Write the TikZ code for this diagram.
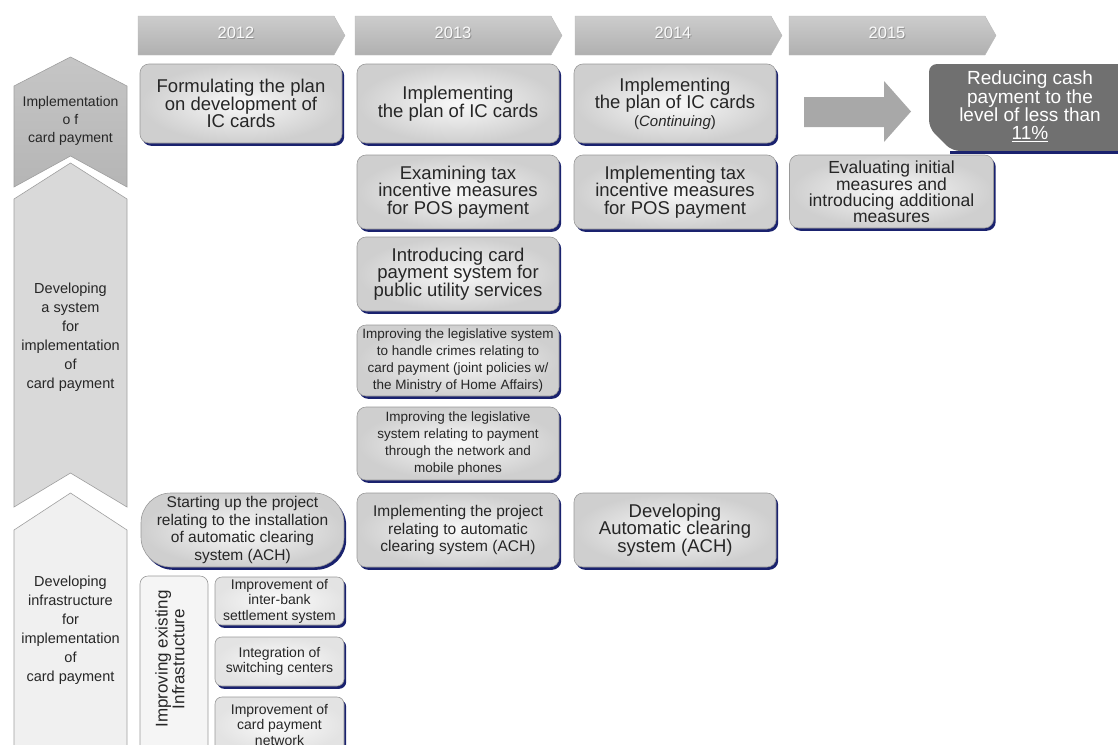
\documentclass[tikz,border=0pt]{standalone}
\usepackage{fontspec}
\setmainfont{Liberation Sans}
\usetikzlibrary{shadows}
\definecolor{shadowblue}{RGB}{26,34,110}
\definecolor{inkgray}{RGB}{38,38,38}
\definecolor{goalgray}{RGB}{112,112,112}
\begin{document}
\begin{tikzpicture}[x=1pt,y=-1pt,
  stepbox/.style={draw=gray!80, line width=0.6pt, rounded corners=9pt,
    inner color=gray!5, outer color=gray!38,
    drop shadow={shadow xshift=2.2pt, shadow yshift=-2.8pt, fill=shadowblue, opacity=1},
    align=center, text=inkgray, inner sep=1pt},
  bigtxt/.style={font=\fontsize{18.5}{17.5}\selectfont},
  midtxt/.style={font=\fontsize{15.5}{17.5}\selectfont},
  smalltxt/.style={font=\fontsize{13.5}{17}\selectfont},
  tinytxt/.style={font=\fontsize{14}{15.5}\selectfont},
  yearband/.style={top color=gray!40, bottom color=gray!62, draw=gray!55, line width=0.4pt},
  yeartext/.style={text=gray!4, font=\fontsize{16.5}{16.5}\selectfont},
  laneband/.style={draw=gray!75, line width=0.6pt},
  lanetext/.style={align=center, text=inkgray, font=\fontsize{14.5}{19}\selectfont},
]
\useasboundingbox (0,0) rectangle (1118,744);
\clip (0,0) rectangle (1118,744);

% ---- year banners ----
\foreach \x/\yr [count=\i] in {138/2012,355/2013,575/2014,789/2015}{
  \path[yearband] (\x,16) -- ++(196,0) -- ++(11,19.5) -- ++(-11,19.5) -- (\x,55) -- cycle;
  \node[text=gray!85, font=\fontsize{16.5}{16.5}\selectfont] at (\x+99,34) {\yr};
  \node[yeartext] (yr\i) at (\x+98,33) {\yr};
}

% ---- lane chevrons on the left ----
\path[laneband, top color=gray!45, bottom color=gray!58]
  (14,86) -- (70.5,57) -- (127,86) -- (127,187) -- (70.5,156) -- (14,187) -- cycle;
\path[laneband, fill=gray!30]
  (14,199) -- (70.5,163) -- (127,199) -- (127,507) -- (70.5,473) -- (14,507) -- cycle;
\path[laneband, fill=gray!12]
  (14,530) -- (70.5,493) -- (127,530) -- (127,760) -- (14,760) -- cycle;

\node[lanetext, font=\fontsize{14}{18}\selectfont] (lane1) at (70.5,121)
  {Implementation\\o f\\card payment};
\node[lanetext] (lane2) at (70.5,337)
  {Developing\\a system\\for\\implementation\\of\\card payment};
\node[lanetext] (lane3) at (70.5,630)
  {Developing\\infrastructure\\for\\implementation\\of\\card payment};

% ---- row: IC cards ----
\node[stepbox, bigtxt, minimum width=202, minimum height=79] (plan) at (241,103.5)
  {Formulating the plan\\on development of\\IC cards};
\node[stepbox, bigtxt, minimum width=202, minimum height=79] (impl) at (458,103.5)
  {Implementing\\the plan of IC cards};
\node[stepbox, bigtxt, minimum width=202, minimum height=79] (cont) at (675,103.5)
  {Implementing\\the plan of IC cards\\{\fontsize{15}{17}\selectfont(\textit{Continuing})}};

% arrow towards the goal
\fill[gray!68] (804,97) -- (884,97) -- (884,81) -- (911,111.5) -- (884,142) -- (884,127) -- (804,127) -- cycle;

% goal box
\fill[goalgray, rounded corners=8pt] (1125,64) -- (929,64) -- (929,128) -- (952,151) -- (1125,151) -- cycle;
\draw[shadowblue, line width=3pt] (950,152.5) -- (1125,152.5);
\node[text=white, align=center, font=\fontsize{19}{17.5}\selectfont] (goal) at (1030,106)
  {Reducing cash\\payment to the\\level of less than\\\underline{11\%}};

% ---- row: tax incentives ----
\node[stepbox, bigtxt, minimum width=202, minimum height=74] (taxa) at (458,192)
  {Examining tax\\incentive measures\\for POS payment};
\node[stepbox, bigtxt, minimum width=202, minimum height=74] (taxb) at (675,192)
  {Implementing tax\\incentive measures\\for POS payment};
\node[stepbox, font=\fontsize{17.5}{16}\selectfont, minimum width=204, minimum height=73] (taxc) at (891.5,191.5)
  {Evaluating initial\\measures and\\introducing additional\\measures};

% ---- system column 2013 ----
\node[stepbox, bigtxt, minimum width=202, minimum height=74] (util) at (458,274)
  {Introducing card\\payment system for\\public utility services};
\node[stepbox, smalltxt, minimum width=202, minimum height=71] (crime) at (458,360.5)
  {Improving the legislative system\\to handle crimes relating to\\card payment (joint policies w/\\the Ministry of Home Affairs)};
\node[stepbox, smalltxt, minimum width=202, minimum height=73] (mobile) at (458,443.5)
  {Improving the legislative\\system relating to payment\\through the network and\\mobile phones};

% ---- row: ACH ----
\node[stepbox, midtxt, rounded corners=30pt, minimum width=203, minimum height=74] (start) at (242.5,530)
  {Starting up the project\\relating to the installation\\of automatic clearing\\system (ACH)};
\node[stepbox, midtxt, minimum width=202, minimum height=74] (achp) at (458,530)
  {Implementing the project\\relating to automatic\\clearing system (ACH)};
\node[stepbox, bigtxt, minimum width=202, minimum height=74] (achd) at (675,530)
  {Developing\\Automatic clearing\\system (ACH)};

% ---- existing infrastructure ----
\node[draw=gray!80, line width=0.6pt, rounded corners=8pt, fill=gray!8,
      minimum width=68, minimum height=180] (infra) at (174,666) {};
\node[rotate=90, align=center, text=inkgray, font=\fontsize{17}{14}\selectfont] (infralbl) at (170,659)
  {Improving existing\\Infrastructure};
\node[stepbox, tinytxt, rounded corners=7pt, inner color=gray!3, outer color=gray!22,
      minimum width=129, minimum height=48] (bank) at (279.5,601)
  {Improvement of\\inter-bank\\settlement system};
\node[stepbox, tinytxt, rounded corners=7pt, inner color=gray!3, outer color=gray!22,
      minimum width=129, minimum height=49] (switch) at (279.5,661.5)
  {Integration of\\switching centers};
\node[stepbox, tinytxt, rounded corners=7pt, inner color=gray!3, outer color=gray!22,
      minimum width=129, minimum height=55] (network) at (279.5,724.5)
  {Improvement of\\card payment\\network};
\end{tikzpicture}
\end{document}
